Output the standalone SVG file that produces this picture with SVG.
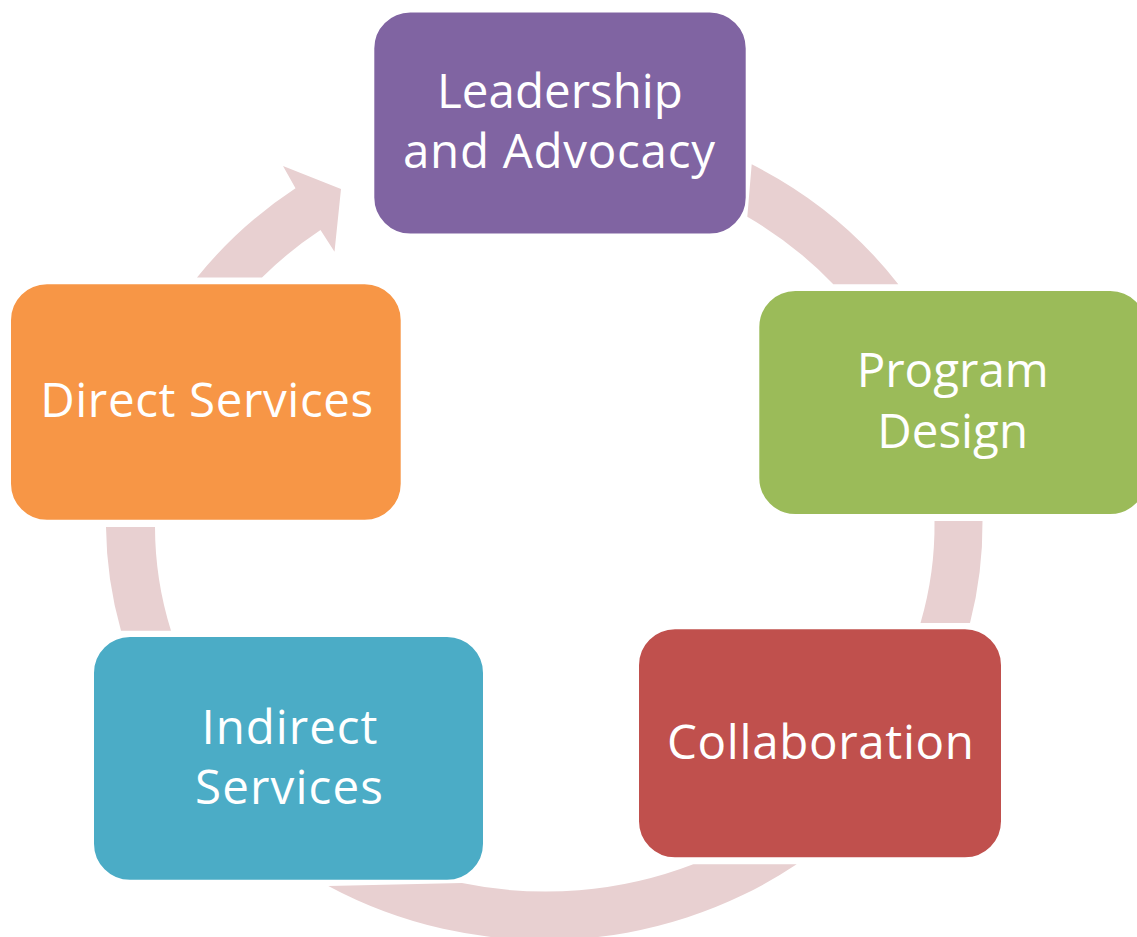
<svg xmlns="http://www.w3.org/2000/svg" width="1137" height="937" viewBox="0 0 1137 937">
  <style>
    .arc { fill: #E8D0D1; stroke: none; }
    .box { stroke: #FFFFFF; stroke-width: 2; }
    .label { fill: #FFFFFF; font-family: "Open Sans", "Noto Sans", "Liberation Sans", sans-serif; font-size: 47.5px; text-anchor: middle; }
  </style>
  <rect width="1137" height="937" fill="#FFFFFF"/>

  <!-- ring segments between the stages; the last one carries the arrowhead -->
  <g id="connectors">
    <path class="arc" d="M 751.7,164.3 A 437.5 414.5 0 0 1 898.3,284.3 L 833.3,284.3 A 389.5 367 0 0 0 747.3,216.7 Z"/>
    <path class="arc" d="M 934.5,521 L 982.5,521 A 437.5 414.5 0 0 1 970,623 L 920.5,623 A 389.5 367 0 0 0 934.5,521 Z"/>
    <path class="arc" d="M 328.3,886 L 462,883 A 389.5 367 0 0 0 693.3,864.3 L 796.7,864.3 A 437.5 414.5 0 0 1 328.3,886 Z"/>
    <path class="arc" d="M 106,527 L 155,527 A 389.5 367 0 0 0 171,630.7 L 121,630.7 A 437.5 414.5 0 0 1 106,527 Z"/>
    <path class="arc" d="M 197,277.5 A 437.5 414.5 0 0 1 295.5,188.3 L 283,166 L 341,189 L 334.5,251.7 L 320.5,230 A 389.5 367 0 0 0 262,277.5 Z"/>
  </g>

  <g id="leadership">
    <rect class="box" x="373.3" y="11.5" width="373.4" height="223" rx="37" fill="#8064A2"/>
    <text class="label" x="560" y="107.7">Leadership</text>
    <text class="label" x="559" y="168.3" textLength="312" lengthAdjust="spacing">and Advocacy</text>
  </g>

  <g id="program-design">
    <rect class="box" x="758.3" y="290" width="389" height="225" rx="37" fill="#9BBB59"/>
    <text class="label" x="952.7" y="386.7">Program</text>
    <text class="label" x="952.7" y="448.3">Design</text>
  </g>

  <g id="collaboration">
    <rect class="box" x="638" y="628.3" width="364" height="230" rx="37" fill="#C0504D"/>
    <text class="label" x="820.5" y="758.5" textLength="307" lengthAdjust="spacing">Collaboration</text>
  </g>

  <g id="indirect-services">
    <rect class="box" x="93" y="636" width="391" height="244.7" rx="37" fill="#4BACC6"/>
    <text class="label" x="289.5" y="743.5" textLength="176" lengthAdjust="spacing">Indirect</text>
    <text class="label" x="289" y="804" textLength="188" lengthAdjust="spacing">Services</text>
  </g>

  <g id="direct-services">
    <rect class="box" x="10" y="283.3" width="391.7" height="237.4" rx="37" fill="#F79646"/>
    <text class="label" x="206.7" y="417.3" textLength="333" lengthAdjust="spacing">Direct Services</text>
  </g>
</svg>
